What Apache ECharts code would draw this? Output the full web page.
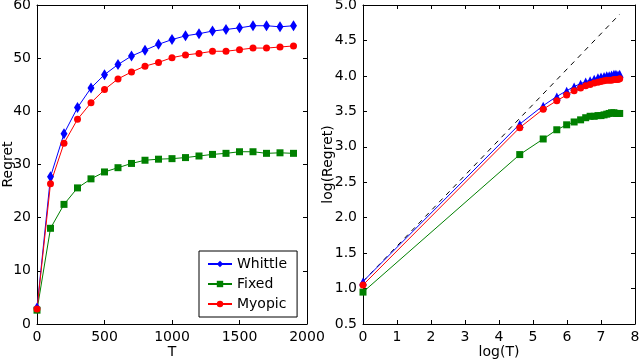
<!DOCTYPE html>
<html>
<head>
<meta charset="utf-8">
<script src="https://cdn.jsdelivr.net/npm/echarts@6/dist/echarts.min.js"></script>
<style>
  html, body { margin: 0; padding: 0; background: #fff; }
  #chart { width: 640px; height: 359px; }
</style>
</head>
<body>
<div id="chart"></div>
<script>
// left panel: regret vs T
var T = [0, 100, 200, 300, 400, 500, 600, 700, 800, 900, 1000, 1100, 1200, 1300, 1400, 1500, 1600, 1700, 1800, 1900];
var whittle = [3.0, 27.7, 35.8, 40.7, 44.4, 46.9, 48.8, 50.4, 51.5, 52.6, 53.5, 54.2, 54.6, 55.1, 55.4, 55.7, 56.1, 56.1, 55.9, 56.1];
var fixed = [2.6, 18.0, 22.5, 25.6, 27.3, 28.6, 29.4, 30.2, 30.8, 31.0, 31.1, 31.3, 31.6, 31.9, 32.1, 32.4, 32.4, 32.1, 32.2, 32.1];
var myopic = [2.8, 26.4, 34.0, 38.5, 41.6, 44.1, 46.1, 47.4, 48.5, 49.2, 50.1, 50.6, 50.9, 51.3, 51.3, 51.6, 51.9, 51.9, 52.1, 52.3];

// right panel: log(regret) vs log(T)
var logT = [0, 4.61, 5.30, 5.70, 5.99, 6.21, 6.40, 6.55, 6.68, 6.80, 6.91, 7.00, 7.09, 7.17, 7.24, 7.31, 7.38, 7.44, 7.50, 7.55];
var logWhittle = [1.10, 3.32, 3.58, 3.71, 3.79, 3.85, 3.89, 3.92, 3.94, 3.96, 3.98, 3.99, 4.00, 4.01, 4.01, 4.02, 4.03, 4.03, 4.02, 4.03];
var logFixed = [0.95, 2.89, 3.11, 3.24, 3.31, 3.35, 3.38, 3.41, 3.43, 3.43, 3.44, 3.44, 3.45, 3.46, 3.47, 3.48, 3.48, 3.47, 3.47, 3.47];
var logMyopic = [1.05, 3.27, 3.53, 3.65, 3.73, 3.79, 3.83, 3.86, 3.88, 3.90, 3.91, 3.92, 3.93, 3.94, 3.94, 3.94, 3.95, 3.95, 3.95, 3.96];
var refLineX = [0, 7.55];
var refLineY = [1.10, 4.87];

function pairs(xs, ys) {
    return xs.map(function (x, i) { return [x, ys[i]]; });
}

var font = 'DejaVu Sans';
var labelStyle = { color: '#000', fontFamily: font, fontSize: 14 };

function axis(opts) {
    var base = {
        type: 'value',
        splitLine: { show: false },
        nameMoveOverlap: false,
        axisLine: { show: true, onZero: false, lineStyle: { color: '#000', width: 1 } },
        axisTick: { show: true, inside: true, length: 4, lineStyle: { color: '#000' } },
        axisLabel: Object.assign({ margin: 6, formatter: function (v) { return String(v); } }, labelStyle),
        nameTextStyle: labelStyle
    };
    return Object.assign(base, opts);
}

function frameAxis(opts) {
    return axis(Object.assign({ axisLabel: { show: false } }, opts));
}

var chart = echarts.init(document.getElementById('chart'));
chart.setOption({
    animation: false,
    backgroundColor: '#fff',
    grid: [
        { left: 37, right: 333, top: 5, bottom: 35, containLabel: false, outerBoundsMode: 'none' },
        { left: 363, right: 5, top: 5, bottom: 35, containLabel: false, outerBoundsMode: 'none' }
    ],
    legend: {
        data: ['Whittle', 'Fixed', 'Myopic'],
        orient: 'vertical',
        left: 199,
        top: 251,
        width: 102,
        padding: [6, 10, 6, 8],
        itemGap: 6,
        itemWidth: 24,
        itemHeight: 8,
        borderColor: '#000',
        borderWidth: 1,
        backgroundColor: '#fff',
        textStyle: labelStyle
    },
    xAxis: [
        axis({ gridIndex: 0, min: 0, max: 2000, interval: 500, name: 'T', nameLocation: 'middle', nameGap: 21 }),
        frameAxis({ gridIndex: 0, min: 0, max: 2000, interval: 500, position: 'top' }),
        axis({ gridIndex: 1, min: 0, max: 8, interval: 1, name: 'log(T)', nameLocation: 'middle', nameGap: 21 }),
        frameAxis({ gridIndex: 1, min: 0, max: 8, interval: 1, position: 'top' })
    ],
    yAxis: [
        axis({ gridIndex: 0, min: 0, max: 60, interval: 10, name: 'Regret', nameLocation: 'middle', nameGap: 22 }),
        frameAxis({ gridIndex: 0, min: 0, max: 60, interval: 10, position: 'right' }),
        axis({
            gridIndex: 1, min: 0.5, max: 5, interval: 0.5, name: 'log(Regret)', nameLocation: 'middle', nameGap: 28,
            axisLabel: Object.assign({ margin: 6, formatter: function (v) { return v.toFixed(1); } }, labelStyle)
        }),
        frameAxis({ gridIndex: 1, min: 0.5, max: 5, interval: 0.5, position: 'right' })
    ],
    series: [
        {
            name: 'Whittle', type: 'line', xAxisIndex: 0, yAxisIndex: 0,
            data: pairs(T, whittle),
            symbol: 'diamond', symbolSize: [7, 11],
            lineStyle: { color: '#0000ff', width: 1 },
            itemStyle: { color: '#0000ff' }
        },
        {
            name: 'Fixed', type: 'line', xAxisIndex: 0, yAxisIndex: 0,
            data: pairs(T, fixed),
            symbol: 'rect', symbolSize: 7,
            lineStyle: { color: '#008000', width: 1 },
            itemStyle: { color: '#008000' }
        },
        {
            name: 'Myopic', type: 'line', xAxisIndex: 0, yAxisIndex: 0,
            data: pairs(T, myopic),
            symbol: 'circle', symbolSize: 7,
            lineStyle: { color: '#ff0000', width: 1 },
            itemStyle: { color: '#ff0000' }
        },
        {
            name: 'ref', type: 'line', xAxisIndex: 2, yAxisIndex: 2,
            data: pairs(refLineX, refLineY),
            symbol: 'none',
            lineStyle: { color: '#000', width: 1, type: [5, 5] }
        },
        {
            name: 'Whittle', type: 'line', xAxisIndex: 2, yAxisIndex: 2,
            data: pairs(logT, logWhittle),
            symbol: 'triangle', symbolSize: 8,
            lineStyle: { color: '#0000ff', width: 1 },
            itemStyle: { color: '#0000ff' }
        },
        {
            name: 'Fixed', type: 'line', xAxisIndex: 2, yAxisIndex: 2,
            data: pairs(logT, logFixed),
            symbol: 'rect', symbolSize: 7,
            lineStyle: { color: '#008000', width: 1 },
            itemStyle: { color: '#008000' }
        },
        {
            name: 'Myopic', type: 'line', xAxisIndex: 2, yAxisIndex: 2,
            data: pairs(logT, logMyopic),
            symbol: 'circle', symbolSize: 7,
            lineStyle: { color: '#ff0000', width: 1 },
            itemStyle: { color: '#ff0000' }
        }
    ]
});
</script>
</body>
</html>
